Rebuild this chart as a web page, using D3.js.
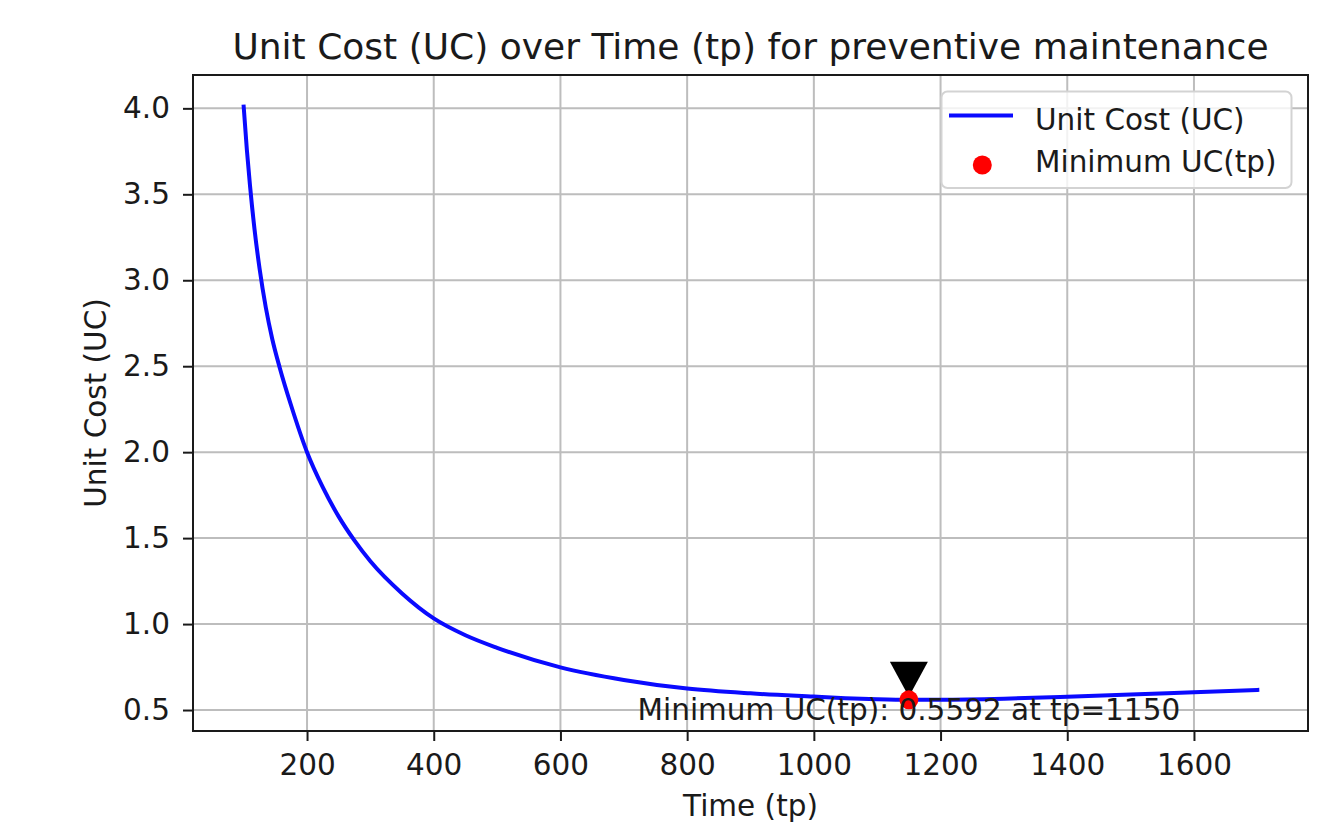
<!DOCTYPE html>
<html>
<head>
<meta charset="utf-8">
<script src="https://cdn.jsdelivr.net/npm/d3@7/dist/d3.min.js"></script>
<style>
  body { margin: 0; background: #ffffff; }
  text { font-family: "DejaVu Sans", sans-serif; fill: #1a1a1a; }
</style>
</head>
<body>
<svg id="chart" width="1338" height="825"></svg>
<script>
// ---------- data ----------
const tpValues = [100, 105, 110, 117, 125, 135, 145, 157, 175, 200, 225, 250, 275, 300, 350, 400, 450, 500,
                  600, 700, 800, 900, 1000, 1050, 1100, 1150, 1200, 1300, 1400, 1500, 1600, 1700];
const ucValues = [4.01, 3.76, 3.55, 3.30, 3.07, 2.84, 2.66, 2.49, 2.27, 2.00, 1.795, 1.625, 1.485, 1.365, 1.178, 1.033, 0.935, 0.862,
                  0.748, 0.675, 0.625, 0.597, 0.578, 0.569, 0.5625, 0.5592, 0.5597, 0.566, 0.577, 0.590, 0.604, 0.617];
const xTickValues = [200, 400, 600, 800, 1000, 1200, 1400, 1600];
const yTickValues = [0.5, 1.0, 1.5, 2.0, 2.5, 3.0, 3.5, 4.0];
const minTp = 1150;
const minUC = 0.5592;
const titleText = "Unit Cost (UC) over Time (tp) for preventive maintenance";
const xLabelText = "Time (tp)";
const yLabelText = "Unit Cost (UC)";
const seriesLabels = ["Unit Cost (UC)", "Minimum UC(tp)"];

// ---------- layout ----------
const W = 1338, H = 825;
const plot = { left: 193, right: 1308, top: 75, bottom: 731 };
const baseFont = 29.5, titleFont = 36;
const xDomain = [20, 1780];
const yDomain = [0.378, 4.194];

const svg = d3.select("#chart");
svg.append("rect").attr("width", W).attr("height", H).attr("fill", "#fff");

const x = d3.scaleLinear().domain(xDomain).range([plot.left, plot.right]);
const y = d3.scaleLinear().domain(yDomain).range([plot.bottom, plot.top]);

// grid
const grid = svg.append("g");
grid.selectAll("line.gx").data(xTickValues).join("line")
  .attr("x1", d => x(d)).attr("x2", d => x(d))
  .attr("y1", plot.top).attr("y2", plot.bottom)
  .attr("stroke", "#bdbdbd").attr("stroke-width", 2);
grid.selectAll("line.gy").data(yTickValues).join("line")
  .attr("y1", d => y(d)).attr("y2", d => y(d))
  .attr("x1", plot.left).attr("x2", plot.right)
  .attr("stroke", "#bdbdbd").attr("stroke-width", 2);

// curve
const line = d3.line().x((d, i) => x(tpValues[i])).y(d => y(d)).curve(d3.curveMonotoneX);
svg.append("path").datum(ucValues)
  .attr("d", line)
  .attr("fill", "none")
  .attr("stroke", "#0a0aff")
  .attr("stroke-width", 4)
  .attr("stroke-linecap", "square");

// annotation arrow head (pointing down at min)
const cx = x(minTp), cy = y(minUC);
svg.append("path")
  .attr("d", `M${cx - 19},${cy - 38} L${cx + 19},${cy - 38} L${cx},${cy - 3} Z`)
  .attr("fill", "#000");

// minimum point
svg.append("circle").attr("cx", cx).attr("cy", cy).attr("r", 9.5).attr("fill", "#ff0000");

// annotation text
svg.append("text")
  .attr("x", cx).attr("y", y(minUC - 0.117))
  .attr("text-anchor", "middle")
  .attr("font-size", baseFont)
  .text(`Minimum UC(tp): ${minUC.toFixed(4)} at tp=${minTp}`);

// axes
const xAxis = svg.append("g").attr("transform", `translate(0,${plot.bottom})`)
  .call(d3.axisBottom(x).tickValues(xTickValues).tickSize(10).tickPadding(13).tickFormat(d3.format("d")));
const yAxis = svg.append("g").attr("transform", `translate(${plot.left},0)`)
  .call(d3.axisLeft(y).tickValues(yTickValues).tickSize(10).tickPadding(13).tickFormat(d3.format(".1f")));
[xAxis, yAxis].forEach(a => {
  a.select(".domain").remove();
  a.selectAll(".tick line").attr("stroke", "#1a1a1a").attr("stroke-width", 2);
  a.selectAll(".tick text").attr("font-size", baseFont).attr("font-family", "DejaVu Sans").attr("fill", "#1a1a1a");
});

// spines
svg.append("rect")
  .attr("x", plot.left).attr("y", plot.top)
  .attr("width", plot.right - plot.left).attr("height", plot.bottom - plot.top)
  .attr("fill", "none").attr("stroke", "#1a1a1a").attr("stroke-width", 2);

// title and labels
svg.append("text").attr("x", (plot.left + plot.right) / 2).attr("y", 59)
  .attr("text-anchor", "middle").attr("font-size", titleFont).text(titleText);
svg.append("text").attr("x", (plot.left + plot.right) / 2).attr("y", 816)
  .attr("text-anchor", "middle").attr("font-size", baseFont).text(xLabelText);
svg.append("text")
  .attr("transform", `translate(106,${(plot.top + plot.bottom) / 2}) rotate(-90)`)
  .attr("text-anchor", "middle").attr("font-size", baseFont).text(yLabelText);

// legend
const lg = svg.append("g");
lg.append("rect").attr("x", 941.5).attr("y", 91.5).attr("width", 350).attr("height", 96.5)
  .attr("rx", 6).attr("fill", "#fff").attr("fill-opacity", 0.8)
  .attr("stroke", "#d3d3d3").attr("stroke-width", 2);
lg.append("line").attr("x1", 949).attr("x2", 1013).attr("y1", 115.5).attr("y2", 115.5)
  .attr("stroke", "#0a0aff").attr("stroke-width", 4);
lg.append("circle").attr("cx", 982.3).attr("cy", 165).attr("r", 9.5).attr("fill", "#ff0000");
lg.selectAll("text.lt").data(seriesLabels).join("text")
  .attr("x", 1035).attr("y", (d, i) => 130 + i * 41.7)
  .attr("font-size", baseFont).text(d => d);
</script>
</body>
</html>
